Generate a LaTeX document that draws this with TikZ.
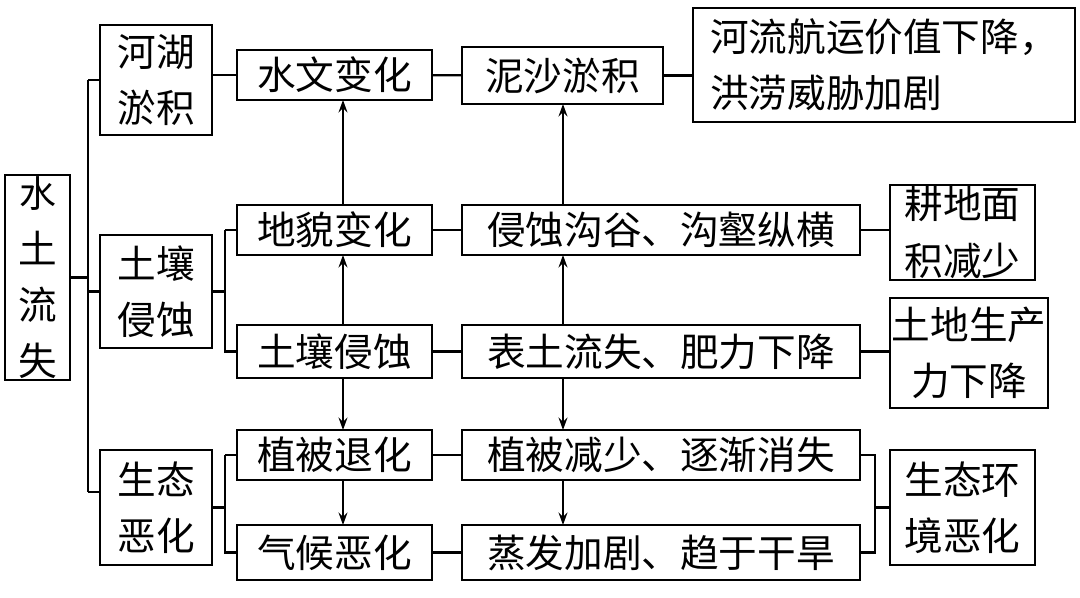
\documentclass[tikz,border=0pt]{standalone}
\usepackage{fontspec}
\setmainfont{Noto Sans CJK SC}
\usetikzlibrary{arrows.meta}
\newcommand{\bx}[6]{\node[box,minimum width={(#4-#2)*0.02cm},minimum height={(#5-#3)*0.02cm}] (#1) at ({(#2+#4)/2},{(#3+#5)/2}) {#6};}
\begin{document}
\begin{tikzpicture}[x=0.02cm,y=-0.02cm,
 box/.style={draw,line width=1.2pt,inner sep=0pt,align=center,font=\fontsize{22}{32}\selectfont},
 ln/.style={line width=1.2pt},
 ar/.style={line width=1.2pt,-{Stealth[length=7pt,width=5pt]}}]
\useasboundingbox (0,0) rectangle (1080,598);
\bx{a}{5}{175}{70}{380}{\fontsize{21}{25}\selectfont 水\\土\\流\\失}
\bx{b1}{100}{25}{212}{135}{河湖\\淤积}
\bx{b2}{100}{235}{212}{348}{土壤\\侵蚀}
\bx{b3}{100}{450}{212}{565}{生态\\恶化}
\bx{c1}{237}{50}{432}{100}{水文变化}
\bx{c2}{237}{205}{432}{255}{地貌变化}
\bx{c3}{237}{325}{432}{378}{土壤侵蚀}
\bx{c4}{237}{430}{432}{480}{植被退化}
\bx{c5}{237}{525}{432}{580}{气候恶化}
\bx{d1}{462}{47}{663}{104}{泥沙淤积}
\bx{d2}{462}{205}{860}{255}{侵蚀沟谷、沟壑纵横}
\bx{d3}{462}{325}{860}{378}{表土流失、肥力下降}
\bx{d4}{462}{430}{860}{480}{植被减少、逐渐消失}
\bx{d5}{462}{525}{860}{580}{蒸发加剧、趋于干旱}
\node[box,minimum width={382*0.02cm},minimum height={114*0.02cm},align=left] (e1) at (884,65) {河流航运价值下降，\\洪涝威胁加剧};
\bx{e2}{890}{185}{1035}{280}{耕地面\\积减少}
\bx{e3}{890}{298}{1048}{408}{土地生产\\力下降}
\bx{e4}{890}{450}{1035}{565}{生态环\\境恶化}
% left tree
\coordinate (t1) at (88,80); \coordinate (t3) at (88,492);
\draw[ln] (a.east) -- (88,277.5);
\draw[ln] (t1) -- (t3);
\draw[ln] (t1) -- (b1.west|-t1);
\draw[ln] (88,291.5) -- (b2.west);
\draw[ln] (t3) -- (b3.west|-t3);
\draw[ln] (b1.east|-c1) -- (c1.west);
\draw[ln] (c1) -- (d1); \draw[ln] (d1.east) -- (e1.west|-d1);
\draw[ln] (b2.east) -- (225,291.5);
\draw[ln] (225,230) -- (225,351.5) -- (c3.west);
\draw[ln] (225,230) -- (c2.west);
\draw[ln] (b3.east) -- (225,507.5);
\draw[ln] (225,455) -- (c4.west); \draw[ln] (225,455) -- (225,552.5) -- (c5.west);
\foreach \i in {2,3,4,5} \draw[ln] (c\i.east) -- (d\i.west);
\draw[ln] (d2.east) -- (e2.west|-d2);
\draw[ln] (d3.east) -- (e3.west|-d3);
\draw[ln] (d4.east) -- (875,455) -- (875,552.5) -- (d5.east);
\draw[ln] (875,507.5) -- (e4.west);
% arrows
\foreach \x in {343,563}{
 \draw[ar] (\x,205) -- (\x,\ifnum\x=343 100\else 104\fi);
 \draw[ar] (\x,325) -- (\x,255);
 \draw[ar] (\x,378) -- (\x,430);
 \draw[ar] (\x,480) -- (\x,525);
}
\end{tikzpicture}
\end{document}
